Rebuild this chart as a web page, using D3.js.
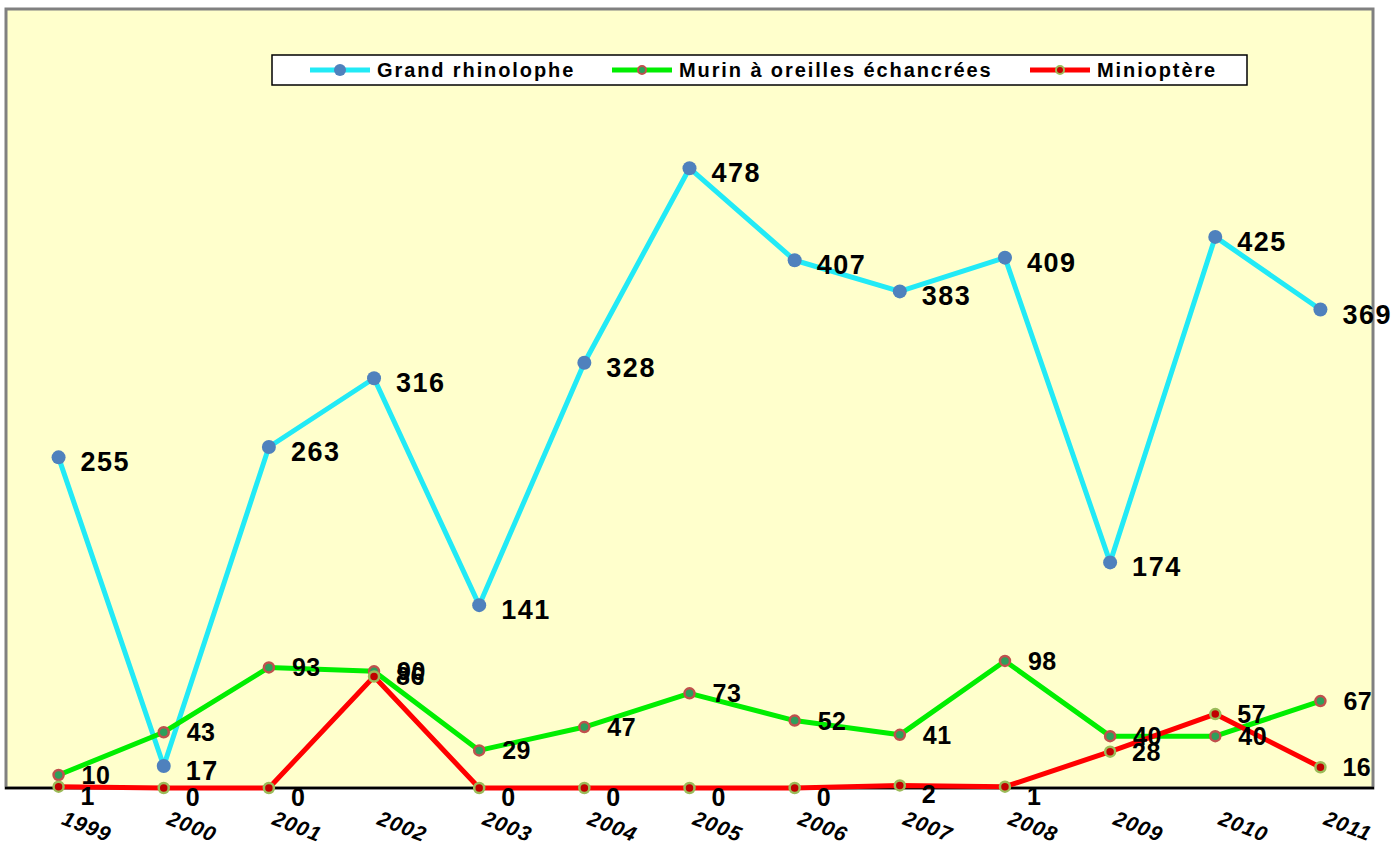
<!DOCTYPE html>
<html>
<head>
<meta charset="utf-8">
<script src="https://cdn.jsdelivr.net/npm/d3@7"></script>
<style>
  body { margin: 0; background: #fff; }
  svg { display: block; font-family: "Liberation Sans", Arial, sans-serif; }
</style>
</head>
<body>
<svg id="Vis" width="1396" height="850"></svg>
<script>
/*
* DATA
*/
const years = ["1999", "2000", "2001", "2002", "2003", "2004", "2005", "2006", "2007", "2008", "2009", "2010", "2011"];
const grandRhino = [255, 17, 263, 316, 141, 328, 478, 407, 383, 409, 174, 425, 369];
const murin = [10, 43, 93, 90, 29, 47, 73, 52, 41, 98, 40, 40, 67];
const minioptere = [1, 0, 0, 86, 0, 0, 0, 0, 2, 1, 28, 57, 16];
const seriesNames = ["Grand rhinolophe", "Murin à oreilles échancrées", "Minioptère"];

/*
* SETUP
*/
const svg = d3.select("svg#Vis");
const plot = { left: 6, right: 1373, top: 10, bottom: 788 };

const x = d3.scaleBand().domain(years).range([plot.left, plot.right]);
const y = d3.scaleLinear().domain([0, 600]).range([plot.bottom, plot.top]);
const cx = d => x(d) + x.bandwidth() / 2;

// labels sit right of the point; those on the axis drop a little below it
const nearAxis = v => y(v) > plot.bottom - 8 ? 9 : 0;
const series = [
  { name: seriesNames[0], values: grandRhino, line: "#22EAF6", fill: "#4F81BD", stroke: "#4F81BD", r: 7,
    labelSize: 27, labelWeight: "bold", spacing: 1.5, dx: 22, base: v => y(v) + 14 },
  { name: seriesNames[1], values: murin, line: "#00EE00", fill: "#2E9E5B", stroke: "#C0504D", r: 5,
    labelSize: 25, labelWeight: "bold", spacing: 0.5, dx: 23, base: v => y(v) + 9 },
  { name: seriesNames[2], values: minioptere, line: "#FF0000", fill: "#C00000", stroke: "#9BBB59", r: 5,
    labelSize: 25, labelWeight: "bold", spacing: 0.5, dx: 22, base: v => y(v) + nearAxis(v) + 9 }
];

/* Plot area */
svg.append("rect")
  .attr("x", plot.left).attr("y", plot.top - 1)
  .attr("width", plot.right - plot.left).attr("height", plot.bottom - plot.top + 1)
  .attr("fill", "#FFFFCC")
  .attr("stroke", "#808080").attr("stroke-width", 3);

svg.append("line")
  .attr("x1", plot.left - 1).attr("x2", plot.right + 1)
  .attr("y1", plot.bottom).attr("y2", plot.bottom)
  .attr("stroke", "#000").attr("stroke-width", 2.5);

/* Year labels */
svg.append("g").selectAll("text")
  .data(years)
  .join("text")
  .attr("transform", d => "translate(" + (cx(d) + 2) + "," + 824 + ") rotate(21)")
  .attr("font-size", 21)
  .attr("font-weight", "bold")
  .attr("font-style", "italic")
  .attr("letter-spacing", 1)
  .text(d => d);

/* Lines + markers */
const line = d3.line().x((d, i) => cx(years[i])).y(d => y(d));

series.forEach(s => {
  const gs = svg.append("g");
  gs.append("path")
    .datum(s.values)
    .attr("d", line)
    .attr("fill", "none")
    .attr("stroke", s.line)
    .attr("stroke-width", 5)
    .attr("stroke-linejoin", "round");
  gs.selectAll("circle")
    .data(s.values)
    .join("circle")
    .attr("cx", (d, i) => cx(years[i]))
    .attr("cy", d => y(d))
    .attr("r", s.r)
    .attr("fill", s.fill)
    .attr("stroke", s.stroke)
    .attr("stroke-width", s.r > 6 ? 0 : 2.5);
});

/* Data labels */
series.forEach(s => {
  svg.append("g").selectAll("text")
    .data(s.values)
    .join("text")
    .attr("x", (d, i) => cx(years[i]) + s.dx)
    .attr("y", d => s.base(d))
    .attr("font-size", s.labelSize)
    .attr("font-weight", s.labelWeight)
    .attr("letter-spacing", s.spacing)
    .attr("fill", "#000")
    .text(d => d);
});

/* LEGEND */
const legend = svg.append("g");
legend.append("rect")
  .attr("x", 272).attr("y", 55).attr("width", 975).attr("height", 30)
  .attr("fill", "#fff").attr("stroke", "#000").attr("stroke-width", 1.5);

const legendX = [310, 612, 1030];
series.forEach((s, i) => {
  const lx = legendX[i];
  legend.append("line")
    .attr("x1", lx).attr("x2", lx + 60).attr("y1", 70).attr("y2", 70)
    .attr("stroke", s.line).attr("stroke-width", 5);
  legend.append("circle")
    .attr("cx", lx + 30).attr("cy", 70).attr("r", s.r > 6 ? 6 : 4)
    .attr("fill", s.fill).attr("stroke", s.stroke)
    .attr("stroke-width", s.r > 6 ? 0 : 2);
  legend.append("text")
    .attr("x", lx + 67).attr("y", 77)
    .attr("font-size", 20).attr("font-weight", "bold")
    .attr("letter-spacing", 1.9)
    .text(s.name);
});
</script>
</body>
</html>
